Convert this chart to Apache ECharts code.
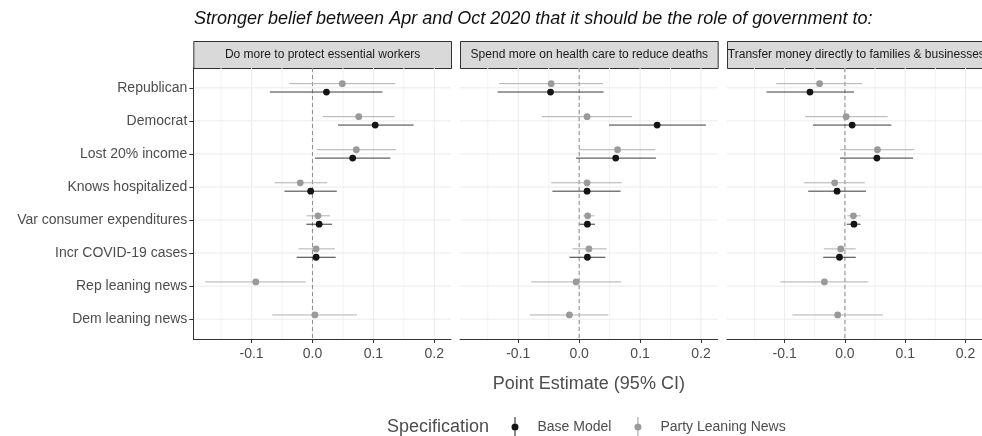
<!DOCTYPE html>
<html>
<head>
<meta charset="utf-8">
<script src="https://cdn.jsdelivr.net/npm/echarts@6/dist/echarts.min.js"></script>
<style>html,body{margin:0;padding:0;background:#fff}#c{width:982px;height:436px}</style>
</head>
<body>
<div id="c"></div>
<script>
// ---- data ----
const titleText = 'Stronger belief between Apr and Oct 2020 that it should be the role of government to:';
const panels = ['Do more to protect essential workers', 'Spend more on health care to reduce deaths', 'Transfer money directly to families & businesses'];
const categories = ['Republican', 'Democrat', 'Lost 20% income', 'Knows hospitalized', 'Var consumer expenditures', 'Incr COVID-19 cases', 'Rep leaning news', 'Dem leaning news'];
const specs = ['Base Model', 'Party Leaning News'];
const xTicks = [-0.1, 0, 0.1, 0.2];
const xMinorTicks = [-0.15, -0.05, 0.05, 0.15];

// Panel 1: Do more to protect essential workers
const workersBaseEst = [0.023, 0.103, 0.066, -0.003, 0.011, 0.006, null, null];
const workersBaseLo  = [-0.070, 0.042, 0.004, -0.046, -0.010, -0.026, null, null];
const workersBaseHi  = [0.115, 0.166, 0.128, 0.040, 0.032, 0.038, null, null];
const workersNewsEst = [0.049, 0.076, 0.072, -0.020, 0.009, 0.006, -0.093, 0.004];
const workersNewsLo  = [-0.038, 0.017, 0.007, -0.062, -0.010, -0.023, -0.176, -0.066];
const workersNewsHi  = [0.136, 0.135, 0.137, 0.024, 0.029, 0.037, -0.011, 0.073];

// Panel 2: Spend more on health care to reduce deaths
const healthBaseEst = [-0.047, 0.128, 0.060, 0.013, 0.0135, 0.0135, null, null];
const healthBaseLo  = [-0.134, 0.049, -0.005, -0.044, 0.001, -0.016, null, null];
const healthBaseHi  = [0.040, 0.208, 0.126, 0.068, 0.026, 0.043, null, null];
const healthNewsEst = [-0.046, 0.013, 0.063, 0.013, 0.014, 0.016, -0.005, -0.016];
const healthNewsLo  = [-0.131, -0.061, 0.000, -0.046, 0.007, -0.011, -0.079, -0.081];
const healthNewsHi  = [0.039, 0.087, 0.125, 0.070, 0.025, 0.045, 0.069, 0.048];

// Panel 3: Transfer money directly to families & businesses
const transferBaseEst = [-0.058, 0.012, 0.053, -0.013, 0.015, -0.009, null, null];
const transferBaseLo  = [-0.130, -0.053, -0.008, -0.061, 0.003, -0.036, null, null];
const transferBaseHi  = [0.015, 0.077, 0.113, 0.035, 0.026, 0.018, null, null];
const transferNewsEst = [-0.042, 0.002, 0.054, -0.017, 0.014, -0.007, -0.034, -0.012];
const transferNewsLo  = [-0.114, -0.066, -0.008, -0.068, 0.004, -0.035, -0.107, -0.087];
const transferNewsHi  = [0.029, 0.071, 0.115, 0.033, 0.026, 0.018, 0.039, 0.063];

const panelData = [
  [[workersBaseEst, workersBaseLo, workersBaseHi], [workersNewsEst, workersNewsLo, workersNewsHi]],
  [[healthBaseEst, healthBaseLo, healthBaseHi], [healthNewsEst, healthNewsLo, healthNewsHi]],
  [[transferBaseEst, transferBaseLo, transferBaseHi], [transferNewsEst, transferNewsLo, transferNewsHi]]
];

// ---- layout / style ----
const FONT = 'Liberation Sans, Arial, sans-serif';
const panelLeft = [193.3, 460, 727];
const panelWidth = 257.7;
const gridTop = 68, gridHeight = 271;
const xMin = -0.1956, xMax = 0.2274;
const dodge = [0.127, -0.127];              // base below, news above
const pointColor = ['#141414', '#9a9a9a'];
const lineColor = ['#3a3a3a', '#b0b0b0'];
const legendIcon = 'path://M30,0H40V200H30Z M0,100A35,35 0 1,1 70,100A35,35 0 1,1 0,100Z';

const grids = [], xAxes = [], yAxes = [], series = [], graphics = [];

panelLeft.forEach((left, p) => {
  grids.push({ left: left, top: gridTop, width: panelWidth, height: gridHeight });
  xAxes.push({
    gridIndex: p, type: 'value', min: xMin, max: xMax,
    axisLine: { show: true, onZero: false, lineStyle: { color: '#333', width: 1 } },
    axisTick: { show: true, length: 4, customValues: xTicks, lineStyle: { color: '#333', width: 1 } },
    axisLabel: { customValues: xTicks, formatter: v => v.toFixed(1), fontSize: 14, color: '#4d4d4d', margin: 8, fontFamily: FONT },
    splitLine: { show: false },
    name: p === 1 ? 'Point Estimate (95% CI)' : '',
    nameLocation: 'middle', nameGap: 36,
    nameTextStyle: { fontSize: 18, color: '#4d4d4d', fontFamily: FONT }
  });
  yAxes.push({
    gridIndex: p, type: 'value', min: 0.4, max: categories.length + 0.6, inverse: true,
    axisLine: { show: p === 0, onZero: false, lineStyle: { color: '#333', width: 1 } },
    axisTick: { show: p === 0, length: 4, customValues: categories.map((c, i) => i + 1), lineStyle: { color: '#333', width: 1 } },
    axisLabel: { show: p === 0, customValues: categories.map((c, i) => i + 1), formatter: v => categories[Math.round(v) - 1] || '', fontSize: 14, color: '#4d4d4d', margin: 6, fontFamily: FONT },
    splitLine: { show: false }
  });

  // gridlines (vertical major/minor, horizontal at categories)
  series.push({
    type: 'custom', xAxisIndex: p, yAxisIndex: p, silent: true, z: 0,
    data: xTicks.map(v => [v, 1, 1]).concat(xMinorTicks.map(v => [v, 1, 0])),
    encode: { x: 0, y: 1 },
    renderItem: (params, api) => {
      const cs = params.coordSys;
      const x = api.coord([api.value(0), 1])[0];
      const major = api.value(2) === 1;
      return { type: 'line', shape: { x1: x, y1: cs.y, x2: x, y2: cs.y + cs.height },
        style: { stroke: major ? '#ebebeb' : '#f3f3f3', lineWidth: 1 } };
    }
  });
  series.push({
    type: 'custom', xAxisIndex: p, yAxisIndex: p, silent: true, z: 0,
    data: categories.map((c, i) => [0, i + 1]),
    encode: { x: 0, y: 1 },
    renderItem: (params, api) => {
      const cs = params.coordSys;
      const y = api.coord([0, api.value(1)])[1];
      return { type: 'line', shape: { x1: cs.x, y1: y, x2: cs.x + cs.width, y2: y },
        style: { stroke: '#ebebeb', lineWidth: 1 } };
    }
  });
  // zero reference line
  series.push({
    type: 'custom', xAxisIndex: p, yAxisIndex: p, silent: true, z: 1,
    data: [[0, 1]],
    encode: { x: 0, y: 1 },
    renderItem: (params, api) => {
      const cs = params.coordSys;
      const x = api.coord([api.value(0), 1])[0];
      return { type: 'line', shape: { x1: x, y1: cs.y, x2: x, y2: cs.y + cs.height },
        style: { stroke: '#8c8c8c', lineWidth: 1, lineDash: [4, 3] } };
    }
  });

  // estimates with CIs
  [1, 0].forEach(s => {
    const [est, lo, hi] = panelData[p][s];
    const data = [];
    est.forEach((v, i) => { if (v !== null) data.push([v, lo[i], hi[i], i + 1 + dodge[s]]); });
    series.push({
      type: 'custom', name: specs[s], xAxisIndex: p, yAxisIndex: p, z: 3,
      itemStyle: { color: pointColor[s] },
      data: data,
      encode: { x: [0, 1, 2], y: 3 },
      renderItem: (params, api) => {
        const yv = api.value(3);
        const pt = api.coord([api.value(0), yv]);
        const a = api.coord([api.value(1), yv]);
        const b = api.coord([api.value(2), yv]);
        return { type: 'group', children: [
          { type: 'line', shape: { x1: a[0], y1: a[1], x2: b[0], y2: b[1] }, style: { stroke: lineColor[s], lineWidth: 1 } },
          { type: 'circle', shape: { cx: pt[0], cy: pt[1], r: 3.4 }, style: { fill: pointColor[s] } }
        ] };
      }
    });
  });

  // facet strip
  graphics.push({
    type: 'group', left: left, top: 41,
    children: [
      { type: 'rect', shape: { x: 0, y: 0, width: panelWidth, height: 27 }, style: { fill: '#d9d9d9', stroke: '#333', lineWidth: 1 } },
      { type: 'text', x: panelWidth / 2, y: 13.5, style: { text: panels[p], fill: '#1a1a1a', font: '12px ' + FONT, textAlign: 'center', textVerticalAlign: 'middle' } }
    ]
  });
});

graphics.push({
  type: 'text', left: 387, top: 418,
  style: { text: 'Specification', fill: '#4d4d4d', font: '18px ' + FONT, textVerticalAlign: 'top' }
});

const chart = echarts.init(document.getElementById('c'), null, { renderer: 'canvas' });
chart.setOption({
  animation: false,
  backgroundColor: '#fff',
  title: {
    text: titleText, left: 194, top: 10, padding: 0,
    textStyle: { fontSize: 18, fontStyle: 'italic', fontWeight: 'normal', color: '#111', fontFamily: FONT }
  },
  legend: {
    data: specs.map(n => ({ name: n, icon: legendIcon })),
    left: 511.5, top: 417, padding: 0, itemWidth: 7, itemHeight: 20, itemGap: 23,
    selectedMode: false,
    textStyle: { fontSize: 14, color: '#4d4d4d', fontFamily: FONT, padding: [0, 0, 0, 14] }
  },
  grid: grids,
  xAxis: xAxes,
  yAxis: yAxes,
  series: series,
  graphic: graphics
});
</script>
</body>
</html>
